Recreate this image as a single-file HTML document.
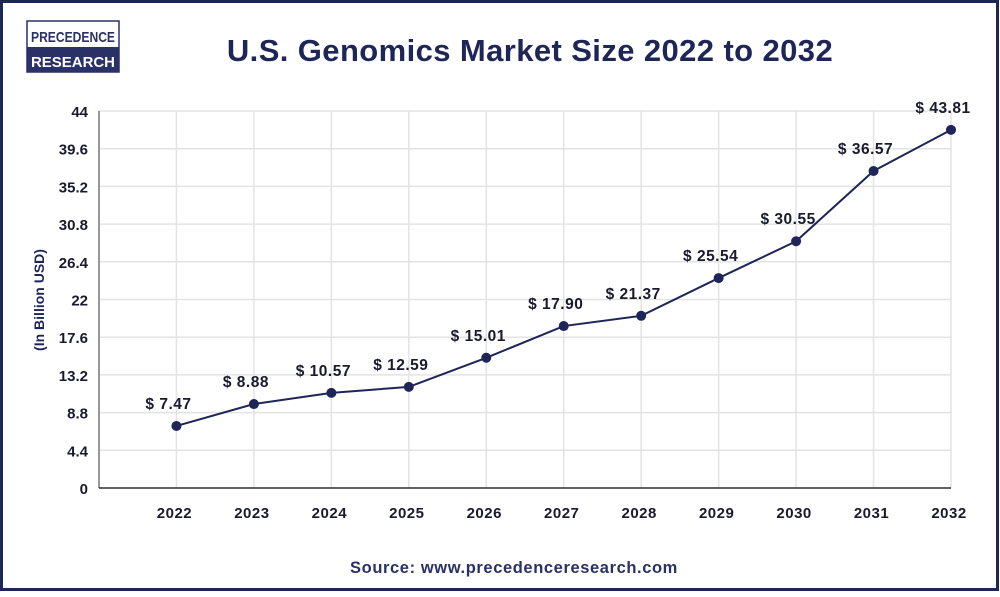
<!DOCTYPE html>
<html><head><meta charset="utf-8"><style>
body{margin:0;width:1000px;height:592px;background:#fff;overflow:hidden;font-family:"Liberation Sans",sans-serif}
</style></head><body>
<svg width="1000" height="592" xmlns="http://www.w3.org/2000/svg">
<rect x="1.5" y="1.5" width="996" height="588" fill="#fff" stroke="#1e2557" stroke-width="3"/>
<g>
<rect x="27" y="21" width="92" height="51" fill="#fff" stroke="#2a3166" stroke-width="1.5"/>
<rect x="27" y="47" width="92" height="25" fill="#2a3166"/>
<text x="73" y="42" text-anchor="middle" font-size="15" font-weight="bold" fill="#2a3166" textLength="84" lengthAdjust="spacingAndGlyphs">PRECEDENCE</text>
<text x="73" y="67" text-anchor="middle" font-size="15" font-weight="bold" fill="#fff" textLength="84" lengthAdjust="spacingAndGlyphs">RESEARCH</text>
</g>
<text x="530" y="61" text-anchor="middle" font-size="31" font-weight="bold" fill="#1e2557" letter-spacing="0.4">U.S. Genomics Market Size 2022 to 2032</text>
<g id="grid"></g>
<g id="axes"></g>
<g id="series"></g>
<text transform="translate(44,300) rotate(-90)" text-anchor="middle" font-size="14" font-weight="bold" fill="#1e2557">(In Billion USD)</text>
<text x="514" y="573" text-anchor="middle" font-size="16.5" font-weight="bold" fill="#2a3166" letter-spacing="0.6">Source: www.precedenceresearch.com</text>
</svg>
<script>
const years=["2022","2023","2024","2025","2026","2027","2028","2029","2030","2031","2032"];
const values=[7.24,9.8,11.1,11.8,15.2,18.9,20.1,24.5,28.8,37.0,41.8];
const valueLabels=["$ 7.47","$ 8.88","$ 10.57","$ 12.59","$ 15.01","$ 17.90","$ 21.37","$ 25.54","$ 30.55","$ 36.57","$ 43.81"];
const yTicks=[0,4.4,8.8,13.2,17.6,22,26.4,30.8,35.2,39.6,44];
const NS="http://www.w3.org/2000/svg";
const L=99,R=951,T=111,B=488,YMAX=44;
const x=i=>L+(i+1)*(R-L)/(years.length);
const y=v=>B-v/YMAX*(B-T);
function mk(tag,attrs,parent){const e=document.createElementNS(NS,tag);for(const k in attrs)e.setAttribute(k,attrs[k]);parent.appendChild(e);return e;}
const grid=document.getElementById('grid'),axes=document.getElementById('axes'),ser=document.getElementById('series');
yTicks.forEach(t=>{
 const g=mk('line',{x1:L,x2:R,y1:y(t),y2:y(t),stroke:'#e3e3e3','stroke-width':1.5},grid);
 
 
 const lb=mk('text',{x:88,y:y(t)+6,'text-anchor':'end','font-size':15,'font-weight':'bold',fill:'#1a1a2e'},axes);
 lb.textContent=String(t);
 
 
});
years.forEach((yr,i)=>{
 const g=mk('line',{x1:x(i),x2:x(i),y1:T,y2:B,stroke:'#e3e3e3','stroke-width':1.5},grid);
 
 
 const lb=mk('text',{x:x(i)-2,y:518,'text-anchor':'middle','font-size':15,'font-weight':'bold',fill:'#1a1a2e','letter-spacing':0.5},axes);
 lb.textContent=yr;
 
 
});
const ya=mk('line',{x1:L,x2:L,y1:T,y2:B,stroke:'#777','stroke-width':1.5},axes);


const xa=mk('line',{x1:L,x2:R,y1:B,y2:B,stroke:'#333','stroke-width':1.5},axes);


const line=mk('polyline',{points:values.map((v,i)=>x(i)+','+y(v)).join(' '),fill:'none',stroke:'#1e2557','stroke-width':2},ser);


values.forEach((v,i)=>{
 const c=mk('circle',{cx:x(i),cy:y(v),r:5,fill:'#1e2557'},ser);
 
 
 const t=mk('text',{x:x(i)-8,y:y(v)-17,'text-anchor':'middle','font-size':15.5,'font-weight':'bold',fill:'#1a1a2e','letter-spacing':0.5},ser);
 t.textContent=valueLabels[i];
 
 
});
</script>
</body></html>
